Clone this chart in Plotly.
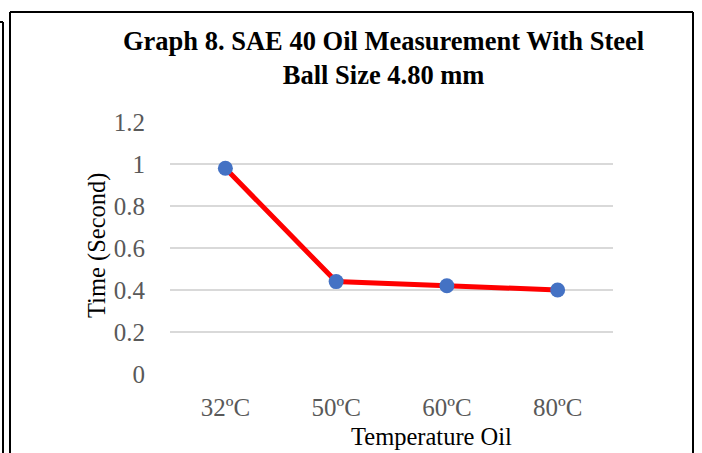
import plotly.graph_objects as go

categories = ["32ºC", "50ºC", "60ºC", "80ºC"]
time_seconds = [0.98, 0.44, 0.42, 0.40]
y_ticks = [0, 0.2, 0.4, 0.6, 0.8, 1, 1.2]
y_tick_labels = ["0", "0.2", "0.4", "0.6", "0.8", "1", "1.2"]

W, H = 702, 453
ML, MR, MT, MB = 170, 89, 122, 79
PW, PH = W - ML - MR, H - MT - MB

def px(x):
    return (x - ML) / PW

def py(y):
    return (H - MB - y) / PH

FONT = "Liberation Serif, Times New Roman, serif"

fig = go.Figure()
fig.add_trace(go.Scatter(
    x=categories, y=time_seconds, mode="lines+markers",
    line=dict(color="#FF0000", width=5),
    marker=dict(color="#4472C4", size=15),
    showlegend=False, cliponaxis=False,
))

shapes = []
line_style = dict(color="black", width=2)
# outer frame
shapes.append(dict(type="line", xref="paper", yref="paper", x0=px(10), y0=py(12), x1=px(693), y1=py(12), line=line_style))
shapes.append(dict(type="line", xref="paper", yref="paper", x0=px(10), y0=py(12), x1=px(10), y1=py(460), line=line_style))
shapes.append(dict(type="line", xref="paper", yref="paper", x0=px(693), y0=py(12), x1=px(693), y1=py(460), line=line_style))
# partial neighbouring frame on the left
shapes.append(dict(type="line", xref="paper", yref="paper", x0=px(-5), y0=py(22), x1=px(3), y1=py(22), line=line_style))
shapes.append(dict(type="line", xref="paper", yref="paper", x0=px(3), y0=py(22), x1=px(3), y1=py(460), line=line_style))

annotations = [
    dict(text="<b>Graph 8. SAE 40 Oil Measurement With Steel<br>Ball Size 4.80 mm</b>",
         xref="paper", yref="paper", x=px(383), y=py(58), xanchor="center", yanchor="middle",
         showarrow=False, font=dict(family=FONT, size=26.5, color="black")),
    dict(text="Time (Second)", textangle=-90,
         xref="paper", yref="paper", x=px(97), y=py(246), xanchor="center", yanchor="middle",
         showarrow=False, font=dict(family=FONT, size=24.5, color="black")),
    dict(text="Temperature Oil",
         xref="paper", yref="paper", x=px(431), y=py(436), xanchor="center", yanchor="middle",
         showarrow=False, font=dict(family=FONT, size=24.5, color="black")),
]

fig.update_layout(
    width=W, height=H,
    margin=dict(l=ML, r=MR, t=MT, b=MB, pad=0),
    paper_bgcolor="white", plot_bgcolor="white",
    shapes=shapes, annotations=annotations,
    xaxis=dict(
        type="category", range=[-0.5, 3.5], showgrid=False, zeroline=False, showline=False,
        ticks="outside", ticklen=11, tickcolor="rgba(0,0,0,0)",
        tickfont=dict(family=FONT, size=25, color="#595959"),
    ),
    yaxis=dict(
        range=[0, 1.2], tickvals=y_ticks, ticktext=y_tick_labels,
        showgrid=True, gridcolor="#D9D9D9", gridwidth=1.5, zeroline=False, showline=False,
        ticks="outside", ticklen=19, tickcolor="rgba(0,0,0,0)",
        tickfont=dict(family=FONT, size=25, color="#595959"),
    ),
)

fig.write_html("out.html")
